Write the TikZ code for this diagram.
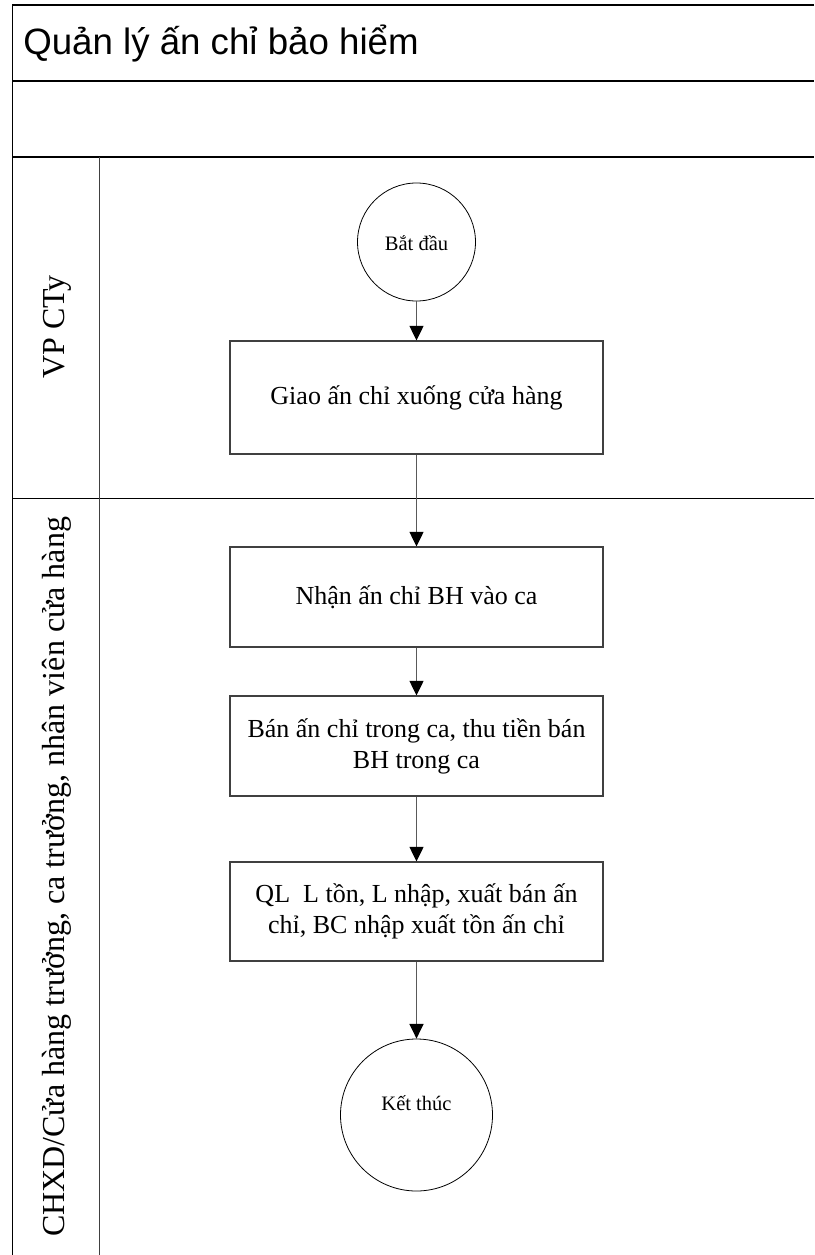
\documentclass[tikz,border=0pt]{standalone}
\usepackage{fontspec}
\setmainfont{Liberation Serif}
\newfontfamily\headfont{Liberation Sans}
\usetikzlibrary{arrows.meta}

\begin{document}
\begin{tikzpicture}[x=0.75pt,y=-0.75pt,
  frame/.style={line width=1.1pt, black},
  divider/.style={line width=0.75pt, black!75},
  stepbox/.style={draw=black!75, line width=0.8pt, minimum width=279.75pt,
    align=center, font=\fontsize{19.5}{23.3}\selectfont, inner sep=2pt},
  terminal/.style={circle, draw=black, line width=0.6pt, inner sep=0pt},
  termtext/.style={font=\fontsize{15.4}{18}\selectfont, inner sep=0pt},
  flow/.style={draw=black!65, line width=1.1pt,
    -{Triangle[length=11pt,width=10.5pt,black]}},
  lanelabel/.style={rotate=90, font=\fontsize{24}{28}\selectfont, inner sep=0pt}
]
\useasboundingbox (0,0) rectangle (814,1255);

% pool frame and lanes
\draw[frame] (814,5) -- (12.5,5) -- (12.5,1255);
\draw[frame] (12.5,81) -- (814,81);
\draw[frame] (12.5,157) -- (814,157);
\draw[frame] (12.5,498.5) -- (814,498.5);
\draw[divider] (99,157) -- (99,1255);

% title
\node[anchor=base west, inner sep=0pt, font=\headfont\fontsize{27.5}{33}\selectfont]
  (title) at (23,55) {Quản lý ấn chỉ bảo hiểm};

% lane labels
\node[lanelabel] (laneA) at (57,327) {VP CTy};
\node[lanelabel] (laneB) at (57,877) {CHXD/Cửa hàng trưởng, ca trưởng, nhân viên cửa hàng};

% flow steps
\node[terminal, minimum size=88.5pt] (start) at (416.5,242) {};
\node[termtext] (starttext) at (416.5,243) {Bắt đầu};

\node[stepbox, minimum height=84.75pt] (s1) at (416.5,397.5) {Giao ấn chỉ xuống cửa hàng};
\node[stepbox, minimum height=75pt] (s2) at (416.5,597) {Nhận ấn chỉ BH vào ca};
\node[stepbox, minimum height=75pt] (s3) at (416.5,746) {Bán ấn chỉ trong ca, thu tiền bán\\BH trong ca};
\node[stepbox, minimum height=74.25pt] (s4) at (416.5,911.5) {QL\ \ L tồn, L nhập, xuất bán ấn\\chỉ, BC nhập xuất tồn ấn chỉ};

\node[terminal, minimum size=114pt] (stop) at (416.5,1115) {};
\node[termtext] (stoptext) at (416.5,1103) {Kết thúc};

% connectors
\draw[flow] (start.south) -- (s1.north);
\draw[flow] (s1.south) -- (s2.north);
\draw[flow] (s2.south) -- (s3.north);
\draw[flow] (s3.south) -- (s4.north);
\draw[flow] (s4.south) -- (stop.north);
\end{tikzpicture}
\end{document}
